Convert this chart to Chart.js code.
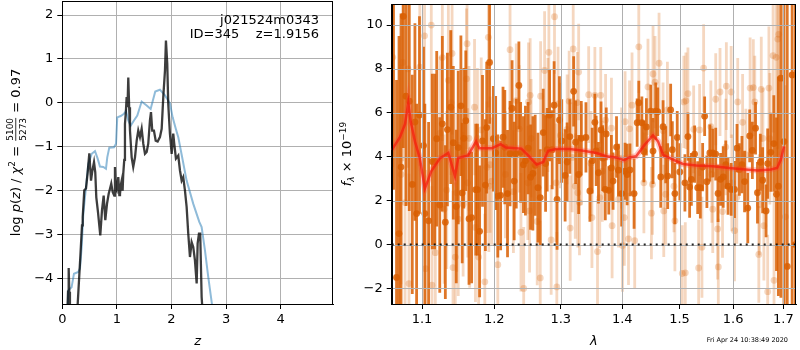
<!DOCTYPE html>
<html>
<head>
<meta charset="utf-8">
<script src="https://cdn.jsdelivr.net/npm/chart.js@4/dist/chart.umd.min.js"></script>
<style>
body { margin: 0; background: #fff; width: 800px; height: 350px; position: relative; overflow: hidden; }
#pzChart { position: absolute; left: 0; top: 0; }
#specChart { position: absolute; left: 336px; top: 0; }
#stamp { position: absolute; right: 12px; top: 336px; font: 6.5px 'DejaVu Sans', sans-serif; color: #000; white-space: pre; }
</style>
</head>
<body>
<canvas id="pzChart" width="340" height="350"></canvas>
<canvas id="specChart" width="464" height="350"></canvas>
<div id="stamp">Fri Apr 24 10:38:49 2020</div>
<script>
// ---- p(z) panel ----
const zTicks = [0, 1, 2, 3, 4];
const logpTicks = [-4, -3, -2, -1, 0, 1, 2];
const zRange = [0, 4.96];
const logpRange = [-4.58, 2.32];

const zBlack = [0.09, 0.105, 0.117, 0.128, 0.14, 0.16, 0.25, 0.282, 0.33, 0.361,
    0.374, 0.403, 0.434, 0.465, 0.495, 0.526, 0.55, 0.581, 0.604, 0.623,
    0.654, 0.696, 0.727, 0.758, 0.788, 0.819, 0.85, 0.875, 0.897, 0.923,
    0.952, 0.965, 0.98, 0.996, 1.026, 1.045, 1.057, 1.075, 1.088, 1.105,
    1.117, 1.135, 1.148, 1.165, 1.179, 1.195, 1.209, 1.225, 1.24, 1.271,
    1.3, 1.332, 1.363, 1.392, 1.423, 1.454, 1.484, 1.515, 1.546, 1.575,
    1.606, 1.625, 1.648, 1.679, 1.711, 1.747, 1.789, 1.821, 1.85, 1.881,
    1.899, 1.923, 1.941, 1.972, 2.004, 2.033, 2.051, 2.082, 2.125, 2.156,
    2.187, 2.216, 2.247, 2.278, 2.308, 2.339, 2.37, 2.399, 2.43, 2.462,
    2.48, 2.504, 2.527, 2.553, 2.564, 2.58];
const logpBlack = [-4.9, -4.3, -3.76, -4.3, -4.8, -5.3, -5.6, -4.58, -3.51, -2.79,
    -2.6, -1.99, -1.95, -1.58, -1.15, -1.77, -1.55, -1.35, -1.58, -2.15,
    -2.49, -3.02, -2.45, -2.11, -2.67, -2.3, -2.07, -1.95, -1.84, -2.03,
    -2.11, -1.46, -1.95, -1.99, -1.69, -2.1, -2.07, -1.85, -1.77, -2.0,
    -1.61, -1.3, -0.48, -0.2, 0.13, -0.1, 0.58, -0.1, -0.63, -1.24,
    -1.46, -1.24, -0.86, -0.63, -0.78, -0.59, -0.93, -1.16, -1.12, -0.93,
    -0.4, -0.21, -0.63, -0.63, -0.86, -0.88, -0.78, -0.59, 0.13, 0.73,
    1.42, 0.89, -0.02, -0.7, -1.16, -0.7, -0.93, -1.27, -1.2, -1.54,
    -1.77, -1.69, -1.99, -2.37, -2.98, -3.51, -3.17, -3.28, -3.58, -4.11,
    -3.2, -2.98, -2.98, -4.42, -4.63, -5.3];

const zBlue = [0.1, 0.11, 0.17, 0.214, 0.293, 0.324, 0.355, 0.385, 0.434, 0.476,
    0.538, 0.599, 0.648, 0.69, 0.751, 0.8, 0.824, 0.861, 0.947, 0.984,
    1.007, 1.07, 1.13, 1.167, 1.209, 1.253, 1.313, 1.374, 1.454, 1.546,
    1.619, 1.703, 1.789, 1.881, 1.972, 2.022, 2.082, 2.125, 2.187, 2.278,
    2.4, 2.51, 2.553, 2.614, 2.674, 2.742, 2.78];
const logpBlue = [-4.6, -4.27, -4.2, -3.89, -3.85, -3.77, -3.28, -2.52, -1.92, -1.39,
    -1.16, -1.1, -1.27, -1.45, -1.46, -1.5, -1.24, -1.02, -1.01, -0.93,
    -0.33, -0.3, -0.25, -0.18, -0.4, -0.52, -0.4, -0.29, 0.03, -0.06,
    -0.14, 0.26, 0.3, 0.17, -0.01, -0.33, -0.6, -0.78, -1.18, -1.77,
    -2.3, -2.71, -2.83, -3.36, -3.96, -4.58, -5.0];

// ---- spectrum panel ----
const lamTicks = [1.1, 1.2, 1.3, 1.4, 1.5, 1.6, 1.7];
const fluxTicks = [-2, 0, 2, 4, 6, 8, 10];
const lamRange = [1.0605, 1.726];
const fluxRange = [-2.71, 10.96];

const lamDark = [1.0628, 1.0667, 1.0699, 1.0725, 1.0755, 1.0790, 1.0832, 1.0871, 1.0906, 1.0928,
    1.0966, 1.1019, 1.1037, 1.1087, 1.1136, 1.1169, 1.1196, 1.1237, 1.1272, 1.1313,
    1.1341, 1.1387, 1.1422, 1.1463, 1.1490, 1.1527, 1.1545, 1.1568, 1.1595, 1.1640,
    1.1677, 1.1736, 1.1759, 1.1790, 1.1831, 1.1872, 1.1891, 1.1932, 1.1986, 1.2020,
    1.2051, 1.2092, 1.2127, 1.2153, 1.2193, 1.2230, 1.2260, 1.2291, 1.2322, 1.2361,
    1.2387, 1.2429, 1.2459, 1.2499, 1.2536, 1.2571, 1.2606, 1.2648, 1.2683, 1.2729,
    1.2765, 1.2790, 1.2827, 1.2867, 1.2897, 1.2943, 1.2980, 1.3016, 1.3069, 1.3101,
    1.3144, 1.3204, 1.3236, 1.3284, 1.3326, 1.3401, 1.3465, 1.3502, 1.3546, 1.3567,
    1.3605, 1.3647, 1.3674, 1.3717, 1.3733, 1.3775, 1.3818, 1.3846, 1.3904, 1.3936,
    1.3990, 1.4048, 1.4083, 1.4131, 1.4201, 1.4254, 1.4282, 1.4335, 1.4370, 1.4413,
    1.4489, 1.4529, 1.4577, 1.4612, 1.4665, 1.4706, 1.4753, 1.4788, 1.4841, 1.4871,
    1.4917, 1.4959, 1.5006, 1.5098, 1.5153, 1.5184, 1.5216, 1.5276, 1.5332, 1.5381,
    1.5424, 1.5461, 1.5503, 1.5558, 1.5614, 1.5669, 1.5713, 1.5761, 1.5811, 1.5860,
    1.5903, 1.5963, 1.6027, 1.6076, 1.6122, 1.6172, 1.6223, 1.6286, 1.6324, 1.6376,
    1.6439, 1.6477, 1.6534, 1.6580, 1.6649, 1.6681, 1.6744, 1.6805, 1.6859, 1.6897,
    1.6948, 1.7012, 1.7079, 1.7180, 1.7246];
const fluxDark = [12.5, -1.5, 0.5, 3.53, 10.4, 6.76, 6.53, 2.74, 5.58, 1.41,
    5.9, 4.51, 1.41, 1.08, 3.78, 3.78, 4.82, 1.8, 5.5, 1.02,
    5.24, 6.26, 4.64, 1.73, 4.42, 6.32, 2.35, 4.84, 5.64, 1.17,
    1.23, 2.5, 2.5, 0.6, 4.72, 2.71, 5.33, 8.3, 4.82, 4.17,
    2.21, 2.24, 4.89, 4.44, 2.32, 4.14, 6.2, 2.89, 4.14, 7.25,
    4.2, 3.64, 3.82, 4.39, 3.07, 3.24, 3.61, 2.59, 2.14, 5.1,
    3.69, 4.32, 5.9, 4.32, 6.35, 2.06, 5.67, 4.72, 3.15, 3.76,
    4.92, 6.98, 4.66, 3.19, 4.84, 4.88, 2.44, 3.82, 5.57, 4.27,
    3.27, 5.22, 3.94, 2.51, 5.04, 2.47, 3.49, 2.89, 4.44, 3.39,
    2.32, 3.34, 3.19, 3.4, 2.32, 5.55, 6.46, 5.55, 4.24, 5.36,
    6.08, 4.26, 6.08, 6.05, 3.08, 5.37, 4.09, 3.12, 6.13, 4.32,
    2.32, 4.88, 3.31, 2.81, 4.92, 2.62, 2.97, 4.12, 2.59, 2.59,
    3.53, 5.85, 2.86, 4.17, 4.17, 4.12, 2.33, 2.97, 3.08, 3.64,
    2.66, 2.51, 2.51, 4.39, 3.42, 3.64, 2.87, 1.66, 4.95, 4.29,
    5.3, 2.36, 3.75, 2.93, 1.53, 3.69, 4.2, 4.6, 2.29, 2.66,
    7.58, 4.69, -1, 7.73, 0];
const errDark = [10, 9, 9, 7, 6, 5, 5, 5, 4.5, 5,
    4.5, 4.5, 5, 4.5, 4, 4, 4, 4, 4, 3.5,
    3.5, 3.5, 3.5, 3.5, 3.5, 3.2, 3.2, 3.2, 3.2, 3,
    3, 3, 3, 3, 3, 3, 3, 2.8, 2.4, 2.6,
    2.8, 2.5, 2.3, 2.6, 2.9, 2.4, 2.2, 2.7, 2.5, 2.0,
    2.3, 2.2, 2.5, 2.1, 2.4, 2.6, 2.3, 2.5, 2.2, 2.0,
    2.2, 1.9, 2.1, 1.8, 2.0, 2.3, 2.0, 1.9, 2.1, 1.8,
    1.7, 1.6, 1.9, 1.8, 1.7, 1.6, 1.4, 1.5, 1.3, 1.6,
    1.4, 1.3, 1.5, 1.4, 1.2, 1.1, 1.5, 1.3, 1.4, 1.2,
    1.5, 1.3, 1.4, 1.2, 1.6, 1.1, 1.0, 1.2, 1.4, 1.3,
    1.2, 1.5, 1.3, 1.1, 1.4, 1.2, 1.3, 1.5, 1.2, 1.3,
    1.4, 1.2, 1.3, 1.3, 1.1, 1.4, 1.2, 1.3, 1.2, 1.4,
    1.1, 0.9, 1.2, 1.3, 1.1, 1.2, 1.3, 1.2, 1.4, 1.1,
    1.3, 1.2, 1.3, 1.1, 1.2, 1.3, 1.4, 1.6, 1.2, 1.3,
    1.2, 1.4, 1.3, 1.5, 1.2, 1.6, 1.8, 2.2, 3.5, 5,
    10, 8, 12, 12, 12];

const lamLight = [1.0618, 1.0725, 1.0747, 1.0777, 1.0816, 1.0828, 1.0970, 1.1033, 1.1046, 1.1123,
    1.1132, 1.1177, 1.1241, 1.1272, 1.1296, 1.1332, 1.1354, 1.1391, 1.1405, 1.1418,
    1.1449, 1.1469, 1.1490, 1.1558, 1.1605, 1.1613, 1.1622, 1.1640, 1.1650, 1.1718,
    1.1731, 1.1759, 1.1776, 1.1813, 1.1864, 1.1895, 1.1915, 1.1922, 1.1940, 1.1963,
    1.2051, 1.2162, 1.2230, 1.2280, 1.2322, 1.2367, 1.2392, 1.2433, 1.2495, 1.2505,
    1.2521, 1.2530, 1.2545, 1.2637, 1.2683, 1.2689, 1.2750, 1.2801, 1.2816, 1.2851,
    1.2903, 1.2928, 1.2939, 1.2958, 1.2995, 1.3101, 1.3133, 1.3149, 1.3181, 1.3197,
    1.3230, 1.3262, 1.3270, 1.3284, 1.3297, 1.3326, 1.3445, 1.3482, 1.3498, 1.3546,
    1.3589, 1.3626, 1.3642, 1.3669, 1.3722, 1.3819, 1.3830, 1.3936, 1.3990, 1.4004,
    1.4035, 1.4048, 1.4106, 1.4123, 1.4166, 1.4212, 1.4282, 1.4370, 1.4441, 1.4501,
    1.4519, 1.4529, 1.4564, 1.4635, 1.4706, 1.4718, 1.4753, 1.4783, 1.4900, 1.4917,
    1.5050, 1.5079, 1.5105, 1.5116, 1.5153, 1.5258, 1.5350, 1.5368, 1.5411, 1.5442,
    1.5577, 1.5595, 1.5613, 1.5669, 1.5705, 1.5718, 1.5750, 1.5798, 1.5860, 1.5871,
    1.5963, 1.5976, 1.6027, 1.6071, 1.6090, 1.6185, 1.6248, 1.6332, 1.6395, 1.6424,
    1.6504, 1.6515, 1.6553, 1.6586, 1.6605, 1.6681, 1.6706, 1.6725, 1.6790, 1.6809,
    1.6853, 1.6885, 1.6904, 1.7042];
const fluxLight = [8.53, 3.19, 8.3, 1.91, 8.0, -1.78, 8.08, 9.51, -1.1, 10.0,
    -1.85, -0.37, 5.07, 8.52, 1.61, 2.48, 7.48, 6.47, 8.71, -1.05,
    -0.57, 2.36, 1.16, 1.84, 7.55, 9.15, 2.81, 4.84, 1.23, 6.26,
    0.78, 4.84, -0.57, 5.22, -1.7, 3.52, 9.44, 2.66, 3.64, 2.89,
    -0.92, 3.19, 8.88, 2.41, 6.56, 5.27, 0.56, -2.0, 2.81, 6.5,
    1.53, 6.8, 4.84, 1.05, -1.52, 6.76, 7.93, 5.9, 8.76, 0.21,
    10.38, 2.81, -1.93, 6.41, 4.97, 5.25, 6.53, 0.75, 3.97, 8.91,
    2.66, 6.47, 2.36, 7.86, 1.91, 4.09, 6.83, 3.69, 1.23, 6.8,
    -0.32, 2.14, 6.8, 3.34, 5.67, 5.3, 0.86, 2.06, 3.94, -0.05,
    1.23, 5.6, 0.26, 5.27, 6.35, 0.18, 9.01, 2.81, 7.18, 1.43,
    2.74, 7.77, 7.4, 8.26, 5.18, 1.53, 2.29, 6.13, 2.66, 1.08,
    -1.32, 6.5, -1.29, 6.55, 6.88, 5.25, -1.07, 5.22, -0.12, 8.04,
    5.37, 3.19, 1.61, 6.62, 0.71, -1.02, 6.95, 1.5, 4.44, 7.22,
    6.95, 2.81, 0.63, 2.14, 6.5, 5.57, 4.09, 7.13, 7.15, 6.5,
    -0.45, 1.81, 7.07, 4.84, 0.86, -2.15, 7.13, 4.82, 8.61, -1.63,
    8.53, 9.36, 9.58, 1.26];
const errLight = [5.0, 5.0, 4.5, 5.0, 4.5, 5.0, 4.5, 4.0, 4.5, 4.0,
    4.5, 4.0, 3.5, 3.8, 3.4, 3.6, 3.5, 3.3, 3.7, 3.5,
    3.4, 3.6, 3.5, 3.3, 3.2, 3.5, 3.4, 3.3, 3.2, 3.1,
    3.4, 3.2, 3.0, 3.3, 3.1, 3.0, 3.2, 3.0, 3.1, 2.9,
    2.8, 2.9, 2.7, 2.8, 2.6, 2.9, 2.7, 2.8, 2.6, 2.7,
    2.8, 2.6, 2.7, 2.9, 2.6, 2.5, 2.7, 2.6, 2.8, 2.5,
    2.6, 2.7, 2.5, 2.6, 2.4, 2.5, 2.3, 2.4, 2.5, 2.3,
    2.4, 2.3, 2.5, 2.2, 2.4, 2.3, 2.2, 2.4, 2.3, 2.2,
    2.4, 2.3, 2.2, 2.3, 2.1, 2.3, 2.4, 2.2, 2.3, 2.1,
    2.2, 2.3, 2.1, 2.2, 2.4, 2.2, 2.1, 2.3, 2.2, 2.1,
    2.3, 2.2, 2.1, 2.3, 2.2, 2.1, 2.3, 2.2, 2.1, 2.3,
    2.2, 2.1, 2.3, 2.2, 2.1, 2.0, 2.2, 2.1, 2.3, 2.0,
    2.1, 2.2, 2.0, 2.1, 2.3, 2.2, 2.0, 2.1, 2.2, 2.0,
    2.1, 2.2, 2.3, 2.1, 2.0, 2.2, 2.1, 2.3, 2.2, 2.1,
    2.2, 2.3, 2.4, 2.3, 2.5, 2.6, 2.8, 3.0, 3.5, 4.0,
    4.5, 5.0, 5.5, 6.0];

const lamModel = [1.0605, 1.0712, 1.0777, 1.0819, 1.0850, 1.0906, 1.0970, 1.1037, 1.1122, 1.1241,
    1.1354, 1.1445, 1.1490, 1.1627, 1.1740, 1.1785, 1.1967, 1.2092, 1.2168, 1.2398,
    1.2499, 1.2628, 1.2729, 1.2805, 1.2934, 1.3144, 1.3358, 1.3573, 1.3733, 1.3894,
    1.4030, 1.4118, 1.4236, 1.4383, 1.4529, 1.4617, 1.4706, 1.4824, 1.5061, 1.5308,
    1.5614, 1.5921, 1.6237, 1.6481, 1.6744, 1.6872, 1.6948, 1.7012];
const fluxModel = [4.3, 4.9, 5.5, 6.45, 5.6, 4.7, 3.94, 2.55, 3.34, 3.94,
    4.17, 3.12, 3.94, 4.06, 4.7, 4.39, 4.39, 4.57, 4.42, 4.37,
    4.06, 3.64, 3.76, 4.27, 4.35, 4.35, 4.27, 4.17, 4.02, 3.97,
    3.84, 3.97, 4.02, 4.55, 4.97, 4.7, 4.09, 3.94, 3.67, 3.6,
    3.57, 3.49, 3.42, 3.37, 3.42, 3.49, 3.87, 4.47];

const FONT = "'DejaVu Sans', sans-serif";
Chart.defaults.font.family = FONT;
Chart.defaults.font.size = 13;
Chart.defaults.color = '#000';

function fnt(size, italic) {
    return (italic ? 'italic ' : '') + size + 'px ' + FONT;
}

function minus(v) {
    return v < 0 ? '\u2212' + Math.abs(v) : String(v);
}

function pairs(xs, ys) {
    return xs.map((x, i) => ({ x: x, y: ys[i] }));
}

// fix axis sizes and drop the label overhang Chart.js reserves
function fitY(width) {
    return s => { s.width = width; s.paddingTop = 0; s.paddingBottom = 0; };
}
function fitX(height) {
    return s => { s.height = height; s.paddingLeft = 0; s.paddingRight = 0; };
}

// draw a run of mixed text pieces centred on (cx, baseline cy)
function drawRun(ctx, parts, cx, cy) {
    let w = 0;
    parts.forEach(p => {
        ctx.font = fnt(p.size, p.it);
        if (p.frac) {
            p.w = Math.max(ctx.measureText(p.frac[0]).width, ctx.measureText(p.frac[1]).width) + 2;
        } else {
            p.w = ctx.measureText(p.t).width;
        }
        w += p.w;
    });
    let x = cx - w / 2;
    ctx.textBaseline = 'alphabetic';
    parts.forEach(p => {
        ctx.font = fnt(p.size, p.it);
        if (p.frac) {
            const c = x + p.w / 2;
            ctx.textAlign = 'center';
            ctx.fillText(p.frac[0], c, cy - 7);
            ctx.fillText(p.frac[1], c, cy + 5.5);
            ctx.fillRect(x + 1, cy - 4.6, p.w - 2, 0.8);
        } else {
            ctx.textAlign = 'left';
            ctx.fillText(p.t, x, cy + (p.dy || 0));
        }
        x += p.w;
    });
}

function drawFrame(ctx, a) {
    ctx.strokeStyle = '#000';
    ctx.lineWidth = 1;
    const l = Math.round(a.left) + 0.5, t = Math.round(a.top) + 0.5;
    const r = Math.round(a.right) - 0.5, b = Math.round(a.bottom) + 0.5;
    ctx.strokeRect(l, t, r - l, b - t);
}

// error bars drawn just before their dataset
const errorBars = {
    id: 'errorBars',
    beforeDatasetDraw(chart, args) {
        const ds = chart.data.datasets[args.index];
        const { ctx, chartArea: a, scales: { x, y } } = chart;
        if (ds.gridBefore) {
            // grid sits above the points but below the model lines
            ctx.save();
            ctx.strokeStyle = '#b0b0b0';
            ctx.lineWidth = 1;
            x.ticks.forEach(t => {
                const px = Math.round(x.getPixelForValue(t.value)) + 0.5;
                ctx.beginPath(); ctx.moveTo(px, a.top); ctx.lineTo(px, a.bottom); ctx.stroke();
            });
            y.ticks.forEach(t => {
                const py = Math.round(y.getPixelForValue(t.value)) + 0.5;
                ctx.beginPath(); ctx.moveTo(a.left, py); ctx.lineTo(a.right, py); ctx.stroke();
            });
            ctx.restore();
        }
        if (!ds.errs) return;
        ctx.save();
        ctx.beginPath();
        ctx.rect(a.left, a.top, a.right - a.left, a.bottom - a.top);
        ctx.clip();
        ctx.strokeStyle = ds.barColor;
        ctx.lineWidth = 2.8;
        ds.data.forEach((p, i) => {
            const px = x.getPixelForValue(p.x);
            ctx.beginPath();
            ctx.moveTo(px, y.getPixelForValue(p.y - ds.errs[i]));
            ctx.lineTo(px, y.getPixelForValue(p.y + ds.errs[i]));
            ctx.stroke();
        });
        ctx.restore();
    }
};

const pzDecor = {
    id: 'pzDecor',
    afterDraw(chart) {
        const { ctx, chartArea: a } = chart;
        ctx.save();
        drawFrame(ctx, a);
        ctx.fillStyle = '#000';
        ctx.font = fnt(13, true);
        ctx.textAlign = 'center';
        ctx.textBaseline = 'alphabetic';
        ctx.fillText('z', (a.left + a.right) / 2, 345);

        ctx.font = fnt(13);
        ctx.textAlign = 'right';
        ctx.fillText('j021524m0343', 319, 24);
        ctx.fillText('ID=345    z=1.9156', 319, 38);

        ctx.translate(20, (a.top + a.bottom) / 2);
        ctx.rotate(-Math.PI / 2);
        drawRun(ctx, [
            { t: 'log ', size: 13 },
            { t: 'p', size: 13, it: true },
            { t: '(', size: 13 },
            { t: 'z', size: 13, it: true },
            { t: ') / ', size: 13 },
            { t: '\u03c7', size: 13, it: true },
            { t: '2', size: 9, dy: -5 },
            { t: ' = ', size: 13 },
            { frac: ['5100', '5273'], size: 9 },
            { t: ' = 0.97', size: 13 }
        ], 0, 0);
        ctx.restore();
    }
};

const specDecor = {
    id: 'specDecor',
    afterDraw(chart) {
        const { ctx, chartArea: a } = chart;
        ctx.save();
        drawFrame(ctx, a);
        ctx.fillStyle = '#000';
        ctx.font = fnt(13, true);
        ctx.textAlign = 'center';
        ctx.textBaseline = 'alphabetic';
        ctx.fillText('\u03bb', (a.left + a.right) / 2, 345);

        ctx.translate(15, (a.top + a.bottom) / 2);
        ctx.rotate(-Math.PI / 2);
        drawRun(ctx, [
            { t: 'f', size: 13, it: true },
            { t: '\u03bb', size: 9, it: true, dy: 3 },
            { t: ' \u00d7 10', size: 13 },
            { t: '\u221219', size: 9, dy: -5 }
        ], 0, 0);
        ctx.restore();
    }
};

const tickGrid = { color: '#b0b0b0', lineWidth: 1, tickColor: '#000', tickLength: 5 };

new Chart(document.getElementById('pzChart'), {
    type: 'scatter',
    data: {
        datasets: [{
            data: pairs(zBlack, logpBlack),
            showLine: true,
            borderColor: 'rgba(0, 0, 0, 0.76)',
            borderWidth: 2.3,
            pointRadius: 0,
            tension: 0,
            clip: 0,
            order: 1
        }, {
            data: pairs(zBlue, logpBlue),
            showLine: true,
            borderColor: 'rgba(31, 119, 180, 0.5)',
            borderWidth: 2,
            pointRadius: 0,
            tension: 0,
            clip: 0,
            order: 2
        }]
    },
    options: {
        responsive: false,
        animation: false,
        devicePixelRatio: 1,
        layout: { padding: { left: 0, right: 7, top: 1, bottom: 0 } },
        plugins: { legend: { display: false }, tooltip: { enabled: false } },
        scales: {
            x: {
                type: 'linear',
                min: zRange[0],
                max: zRange[1],
                afterBuildTicks: s => { s.ticks = zTicks.map(v => ({ value: v })); },
                afterFit: fitX(46),
                ticks: { padding: 3, maxRotation: 0, autoSkip: false, callback: v => minus(v) },
                grid: tickGrid,
                border: { color: '#000' }
            },
            y: {
                min: logpRange[0],
                max: logpRange[1],
                afterBuildTicks: s => { s.ticks = logpTicks.map(v => ({ value: v })); },
                afterFit: fitY(62.3),
                ticks: { padding: 4, autoSkip: false, callback: v => minus(v) },
                grid: tickGrid,
                border: { color: '#000' }
            }
        }
    },
    plugins: [pzDecor]
});

const darkOrange = 'rgba(217, 95, 2, 0.85)';
const lightOrange = 'rgba(217, 95, 2, 0.25)';

new Chart(document.getElementById('specChart'), {
    type: 'scatter',
    data: {
        datasets: [{
            data: pairs(lamLight, fluxLight),
            errs: errLight,
            barColor: lightOrange,
            backgroundColor: lightOrange,
            pointRadius: 3.4,
            pointBorderWidth: 0,
            clip: 0,
            order: 5
        }, {
            data: pairs(lamDark, fluxDark),
            errs: errDark,
            barColor: darkOrange,
            backgroundColor: darkOrange,
            pointRadius: 3.4,
            pointBorderWidth: 0,
            clip: 0,
            order: 4
        }, {
            data: pairs(lamModel, fluxModel),
            gridBefore: true,
            showLine: true,
            borderColor: 'rgba(255, 70, 50, 0.3)',
            borderWidth: 6,
            pointRadius: 0,
            clip: 0,
            order: 3
        }, {
            data: pairs(lamModel, fluxModel),
            showLine: true,
            borderColor: 'rgba(245, 30, 15, 0.75)',
            borderWidth: 2.5,
            pointRadius: 0,
            clip: 0,
            order: 2
        }, {
            data: pairs(lamRange, [0, 0]),
            showLine: true,
            borderColor: 'rgba(0, 0, 0, 0.85)',
            borderWidth: 2,
            borderDash: [2, 4],
            pointRadius: 0,
            clip: 0,
            order: 1
        }]
    },
    options: {
        responsive: false,
        animation: false,
        devicePixelRatio: 1,
        layout: { padding: { left: 0, right: 0.7, top: 1, bottom: 0 } },
        plugins: { legend: { display: false }, tooltip: { enabled: false } },
        scales: {
            x: {
                type: 'logarithmic',
                min: lamRange[0],
                max: lamRange[1],
                afterBuildTicks: s => { s.ticks = lamTicks.map(v => ({ value: v })); },
                afterFit: fitX(46),
                ticks: { padding: 3, maxRotation: 0, autoSkip: false, callback: v => Number(v).toFixed(1) },
                grid: Object.assign({}, tickGrid, { drawOnChartArea: false }),
                border: { color: '#000' }
            },
            y: {
                min: fluxRange[0],
                max: fluxRange[1],
                afterBuildTicks: s => { s.ticks = fluxTicks.map(v => ({ value: v })); },
                afterFit: fitY(55.7),
                ticks: { padding: 4, autoSkip: false, callback: v => minus(v) },
                grid: Object.assign({}, tickGrid, { drawOnChartArea: false }),
                border: { color: '#000' }
            }
        }
    },
    plugins: [errorBars, specDecor]
});
</script>
</body>
</html>
